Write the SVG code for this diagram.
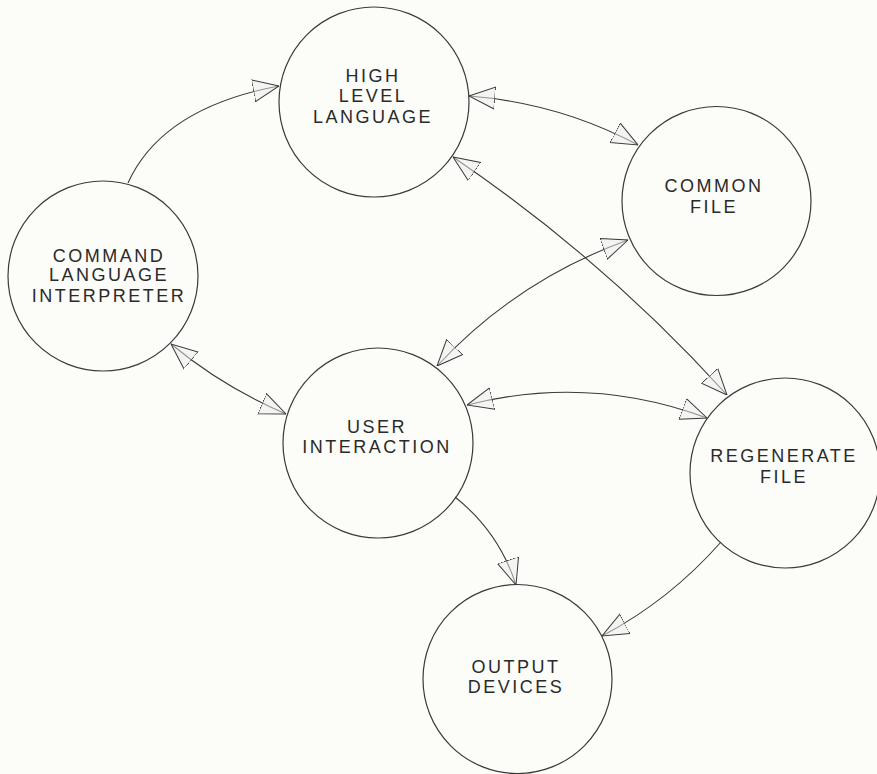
<svg xmlns="http://www.w3.org/2000/svg" width="877" height="774" viewBox="0 0 877 774">
  <style>
    .node circle { fill: none; stroke: #3a3a3a; stroke-width: 1.2; }
    .node text { font-family: "Liberation Sans", Arial, sans-serif; font-size: 18px; letter-spacing: 2.5px; fill: #2a2a2a; text-anchor: middle; }
    .conn path { fill: none; stroke: #3a3a3a; stroke-width: 1.1; }
  </style>
  <defs>
    <marker id="ah" viewBox="0 0 26 24" refX="26" refY="12" markerWidth="26" markerHeight="24" markerUnits="userSpaceOnUse" orient="auto-start-reverse">
      <path d="M0,1 L26,12 L0,23 Z" fill="#ececec" fill-opacity="0.5" stroke="#3a3a3a" stroke-width="1"/>
    </marker>
  </defs>
  <rect width="877" height="774" fill="#fcfcf8"/>
  <g id="connectors" class="conn">
    <path id="cli-hll" d="M128,183 Q162,108 279,86" marker-end="url(#ah)"/>
    <path id="hll-cf" d="M469,96 Q559,103 638,145" marker-start="url(#ah)" marker-end="url(#ah)"/>
    <path id="hll-rf" d="M453,157 Q605,260 727,395" marker-start="url(#ah)" marker-end="url(#ah)"/>
    <path id="ui-cf" d="M437,366 Q517,280 628,240" marker-start="url(#ah)" marker-end="url(#ah)"/>
    <path id="cli-ui" d="M171,344 Q223,387 286,414" marker-start="url(#ah)" marker-end="url(#ah)"/>
    <path id="ui-rf" d="M467,405 Q589,374 707,418" marker-start="url(#ah)" marker-end="url(#ah)"/>
    <path id="ui-od" d="M455,497 Q499,532 516,585" marker-end="url(#ah)"/>
    <path id="rf-od" d="M721,542 Q670,600 602,636" marker-end="url(#ah)"/>
  </g>
  <g id="high-level-language" class="node">
    <circle cx="374" cy="102" r="95"/>
    <text x="373" y="82">HIGH</text>
    <text x="373" y="102">LEVEL</text>
    <text x="373" y="123">LANGUAGE</text>
  </g>
  <g id="common-file" class="node">
    <circle cx="716.5" cy="201" r="94.5"/>
    <text x="714" y="192">COMMON</text>
    <text x="714" y="213">FILE</text>
  </g>
  <g id="command-language-interpreter" class="node">
    <circle cx="103" cy="276" r="95"/>
    <text x="109" y="262">COMMAND</text>
    <text x="109" y="281">LANGUAGE</text>
    <text x="109" y="302">INTERPRETER</text>
  </g>
  <g id="user-interaction" class="node">
    <circle cx="378" cy="443" r="95"/>
    <text x="377" y="433">USER</text>
    <text x="377" y="453">INTERACTION</text>
  </g>
  <g id="regenerate-file" class="node">
    <circle cx="785" cy="473" r="95"/>
    <text x="784" y="462">REGENERATE</text>
    <text x="784" y="483">FILE</text>
  </g>
  <g id="output-devices" class="node">
    <circle cx="517.5" cy="679" r="94.5"/>
    <text x="516" y="673">OUTPUT</text>
    <text x="516" y="693">DEVICES</text>
  </g>
</svg>
